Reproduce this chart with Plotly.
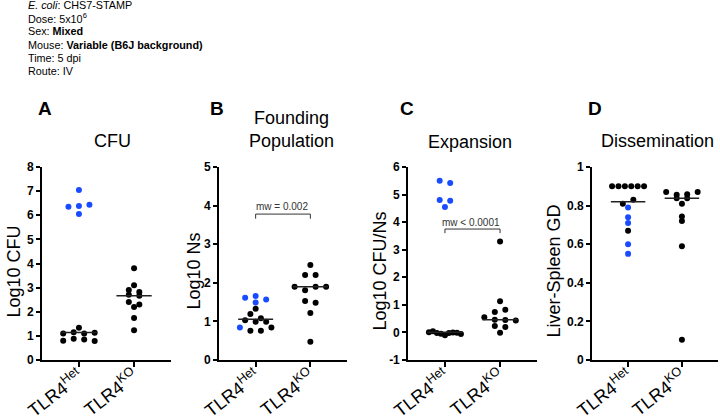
import numpy as np
import plotly.graph_objects as go

# values (log10 units / genetic distance)
groups = ["TLR4<sup>Het</sup>", "TLR4<sup>KO</sup>"]

cfu_het_black = [1.34, 1.1, 1.15, 1.1, 1.13, 0.8, 0.88, 0.85, 0.79]
cfu_het_blue = [6.35, 7.05, 6.38, 6.44, 6.05]
cfu_ko = [3.8, 3.1, 2.9, 2.82, 2.7, 2.66, 2.4, 2.3, 2.2, 1.74, 1.23]

ns_het_black = [1.33, 1.19, 1.03, 0.99, 0.99, 1.08, 0.76, 0.76, 0.84]
ns_het_blue = [1.61, 1.66, 1.57, 1.49, 0.84]
ns_ko = [2.46, 2.2, 2.2, 1.9, 1.81, 1.9, 1.9, 1.53, 1.48, 1.22, 0.47]

exp_het_black = [0.01, 0.04, -0.02, -0.05, -0.1, -0.02, 0.0, -0.01, -0.06]
exp_het_blue = [5.5, 5.42, 4.8, 4.78, 4.55]
exp_ko = [3.3, 1.13, 0.74, 0.82, 0.55, 0.46, 0.45, 0.43, 0.23, 0.2, -0.01]

gd_het_black = [0.9, 0.9, 0.9, 0.9, 0.9, 0.9, 0.81, 0.83, 0.67]
gd_het_blue = [0.79, 0.74, 0.71, 0.6, 0.55]
gd_ko = [0.87, 0.856, 0.859, 0.87, 0.838, 0.838, 0.81, 0.72, 0.744, 0.59, 0.105]

panels = [
    dict(letter="A", title="CFU", ytitle="Log10 CFU", yrange=[0, 8],
         ticks=[0, 1, 2, 3, 4, 5, 6, 7, 8],
         het_black=cfu_het_black, het_blue=cfu_het_blue, ko=cfu_ko, mw=None),
    dict(letter="B", title="Founding<br>Population", ytitle="Log10 Ns", yrange=[0, 5],
         ticks=[0, 1, 2, 3, 4, 5],
         het_black=ns_het_black, het_blue=ns_het_blue, ko=ns_ko, mw="mw = 0.002"),
    dict(letter="C", title="Expansion", ytitle="Log10 CFU/Ns", yrange=[-1, 6],
         ticks=[-1, 0, 1, 2, 3, 4, 5, 6],
         het_black=exp_het_black, het_blue=exp_het_blue, ko=exp_ko, mw="mw < 0.0001"),
    dict(letter="D", title="Dissemination", ytitle="Liver-Spleen GD", yrange=[0, 1],
         ticks=[0, 0.2, 0.4, 0.6, 0.8, 1],
         het_black=gd_het_black, het_blue=gd_het_blue, ko=gd_ko, mw=None),
]

W, H = 720, 419
FONT = "Liberation Sans, Arial, sans-serif"
BLUE = "#1a4cff"
XR = [-0.67, 1.67]
x_doms = [(42, 171), (219, 347), (408, 537), (592, 718)]
y_top, y_bot = 167, 360
mw_pos = [None, (282, 207, 3.78, 3.66), (471, 223, 3.75, 3.6), None]
title_x = [112, 291, 470, 657]
title_y = [141, 129, 142, 141]
letter_x = [45, 217, 407, 595]
ytitle_x = [13, 193, 379, 553]


def px(x):
    return x / W


def py(y):
    return 1 - y / H


def swarm(values, ppy, ppx, gap=4.5, step=10.5, half=16):
    # simple row based scatter layout, like a prism column scatter
    order = sorted(range(len(values)), key=lambda i: -values[i])
    rows = []
    for i in order:
        if rows and (values[rows[-1][0]] - values[i]) * ppy < gap:
            rows[-1].append(i)
        else:
            rows.append([i])
    off = [0.0] * len(values)
    for row in rows:
        row.sort()
        n = len(row)
        sp = step if n == 1 else min(step, 2 * half / (n - 1))
        for k, i in enumerate(row):
            off[i] = (k - (n - 1) / 2) * sp / ppx
    return off


def note(text, x, y, size, **kw):
    d = dict(text=text, x=px(x), y=py(y), xref="paper", yref="paper",
             xanchor="center", yanchor="middle", showarrow=False,
             font=dict(family=FONT, size=size, color=kw.pop("color", "black")))
    d.update(kw)
    return d


fig = go.Figure()
shapes = []
annotations = []

for p, (x0, x1) in enumerate(x_doms):
    pan = panels[p]
    n = "" if p == 0 else str(p + 1)
    ppy = (y_bot - y_top) / (pan["yrange"][1] - pan["yrange"][0])
    ppx = (x1 - x0) / (XR[1] - XR[0])

    het = pan["het_blue"] + pan["het_black"]
    het_col = [BLUE] * len(pan["het_blue"]) + ["black"] * len(pan["het_black"])
    for gi, (vals, cols) in enumerate([(het, het_col), (pan["ko"], ["black"] * len(pan["ko"]))]):
        off = swarm(vals, ppy, ppx)
        fig.add_trace(go.Scatter(
            x=[gi + o for o in off], y=vals, mode="markers",
            marker=dict(size=6, color=cols, line=dict(width=0)),
            xaxis="x" + n, yaxis="y" + n, showlegend=False, hoverinfo="y"))
        med = float(np.median(vals))
        shapes.append(dict(type="line", xref="x" + n, yref="y" + n,
                           x0=gi - 0.32, x1=gi + 0.32, y0=med, y1=med,
                           line=dict(color="#222", width=1.5)))

    fig.layout["xaxis" + n] = dict(
        domain=[px(x0), px(x1)], anchor="y" + n, range=XR,
        tickvals=[0, 1], ticktext=groups, tickangle=-38,
        tickfont=dict(family=FONT, size=18, color="black"),
        ticklabelstandoff=-8,
        showline=True, linecolor="black", linewidth=1.6,
        ticks="outside", ticklen=5, tickwidth=1.6, tickcolor="black",
        showgrid=False, zeroline=False, fixedrange=True, automargin=False)
    fig.layout["yaxis" + n] = dict(
        domain=[py(y_bot), py(y_top)], anchor="x" + n, range=pan["yrange"],
        tickvals=pan["ticks"], ticktext=[("%g" % t) for t in pan["ticks"]],
        tickfont=dict(family=FONT, size=12, color="black", weight="bold"),
        showline=True, linecolor="black", linewidth=1.6,
        ticks="outside", ticklen=4, tickwidth=1.6, tickcolor="black",
        showgrid=False, zeroline=False, fixedrange=True, automargin=False)

    # panel letter, title, y title
    annotations.append(note("<b>" + pan["letter"] + "</b>", letter_x[p], 108, 19))
    annotations.append(note(pan["title"], title_x[p], title_y[p], 18))
    annotations.append(note(pan["ytitle"], ytitle_x[p], (y_top + y_bot) / 2 + 8, 18,
                            textangle=-90))

    if pan["mw"]:
        tx, ty, top, leg = mw_pos[p]
        annotations.append(note(pan["mw"], tx, ty, 10, color="#333"))
        for xs, ys in [((0, 0), (leg, top)), ((0, 1), (top, top)), ((1, 1), (top, leg))]:
            shapes.append(dict(type="line", xref="x" + n, yref="y" + n,
                               x0=xs[0], x1=xs[1], y0=ys[0], y1=ys[1],
                               line=dict(color="#333", width=1)))

# header text block
header = [
    "<i>E. coli</i>: CHS7-STAMP",
    "Dose: 5x10<sup>6</sup>",
    "Sex: <b>Mixed</b>",
    "Mouse: <b>Variable (B6J background)</b>",
    "Time: 5 dpi",
    "Route: IV",
]
for i, line in enumerate(header):
    annotations.append(note(line, 26, 5 + 13.2 * i, 10.8, xanchor="left"))

fig.update_layout(
    width=W, height=H,
    margin=dict(l=0, r=0, t=0, b=0),
    paper_bgcolor="white", plot_bgcolor="white",
    shapes=shapes, annotations=annotations,
)

# no page margin so the figure fills the window exactly
fig.write_html("out.html", config={"displayModeBar": False},
               post_script="document.body.style.margin='0';")
